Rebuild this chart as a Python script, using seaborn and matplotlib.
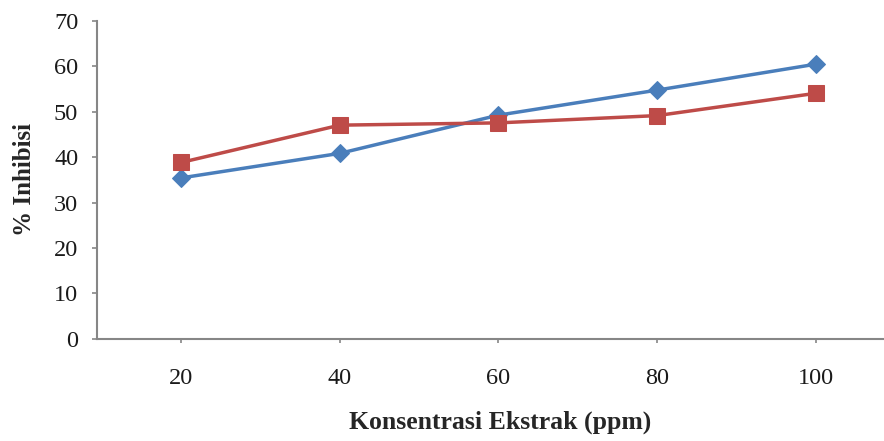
import pandas as pd
import matplotlib.pyplot as plt
import seaborn as sns

konsentrasi = [20, 40, 60, 80, 100]
seri_biru = [35.4, 40.8, 49.2, 54.7, 60.4]
seri_merah = [38.8, 47.0, 47.5, 49.1, 54.0]

sns.set_style("white")
plt.rcParams["font.family"] = ["Liberation Serif", "DejaVu Serif"]

fig = plt.figure(figsize=(8.84, 4.41), dpi=100)
ax = fig.add_axes([0.1097, 0.2313, 0.8903, 0.7222])

sns.lineplot(x=konsentrasi, y=seri_biru, ax=ax, color="#4A7EBB", linewidth=2.5,
             marker="D", markersize=9.5, markeredgecolor="#4A7EBB")
sns.lineplot(x=konsentrasi, y=seri_merah, ax=ax, color="#BE4B48", linewidth=2.5,
             marker="s", markersize=11.5, markeredgecolor="#BE4B48")

ax.set_xlim(9.4, 108.6)
ax.set_ylim(0, 70)
ax.set_xticks(konsentrasi)
ax.set_yticks(range(0, 71, 10))

for side in ["top", "right"]:
    ax.spines[side].set_visible(False)
for side in ["left", "bottom"]:
    ax.spines[side].set_color("#868686")
    ax.spines[side].set_linewidth(1.5)

ax.tick_params(axis="y", which="both", direction="out", length=3.5, width=1.2,
               color="#868686", labelsize=17.5, labelcolor="#1a1a1a", pad=10, left=True)
ax.tick_params(axis="x", which="both", direction="out", length=3, width=1.2,
               color="#868686", labelsize=17.5, labelcolor="#1a1a1a", pad=18, bottom=True)

ax.set_xlabel("Konsentrasi Ekstrak (ppm)", fontsize=18.5, fontweight="bold")
ax.set_ylabel("% Inhibisi", fontsize=18, fontweight="bold")
ax.xaxis.set_label_coords(0.512, -0.26)
ax.xaxis.label.set_va("center")
ax.yaxis.set_label_coords(-0.0915, 0.5)
ax.yaxis.label.set_va("center")

fig.savefig("out.png", dpi=100)
